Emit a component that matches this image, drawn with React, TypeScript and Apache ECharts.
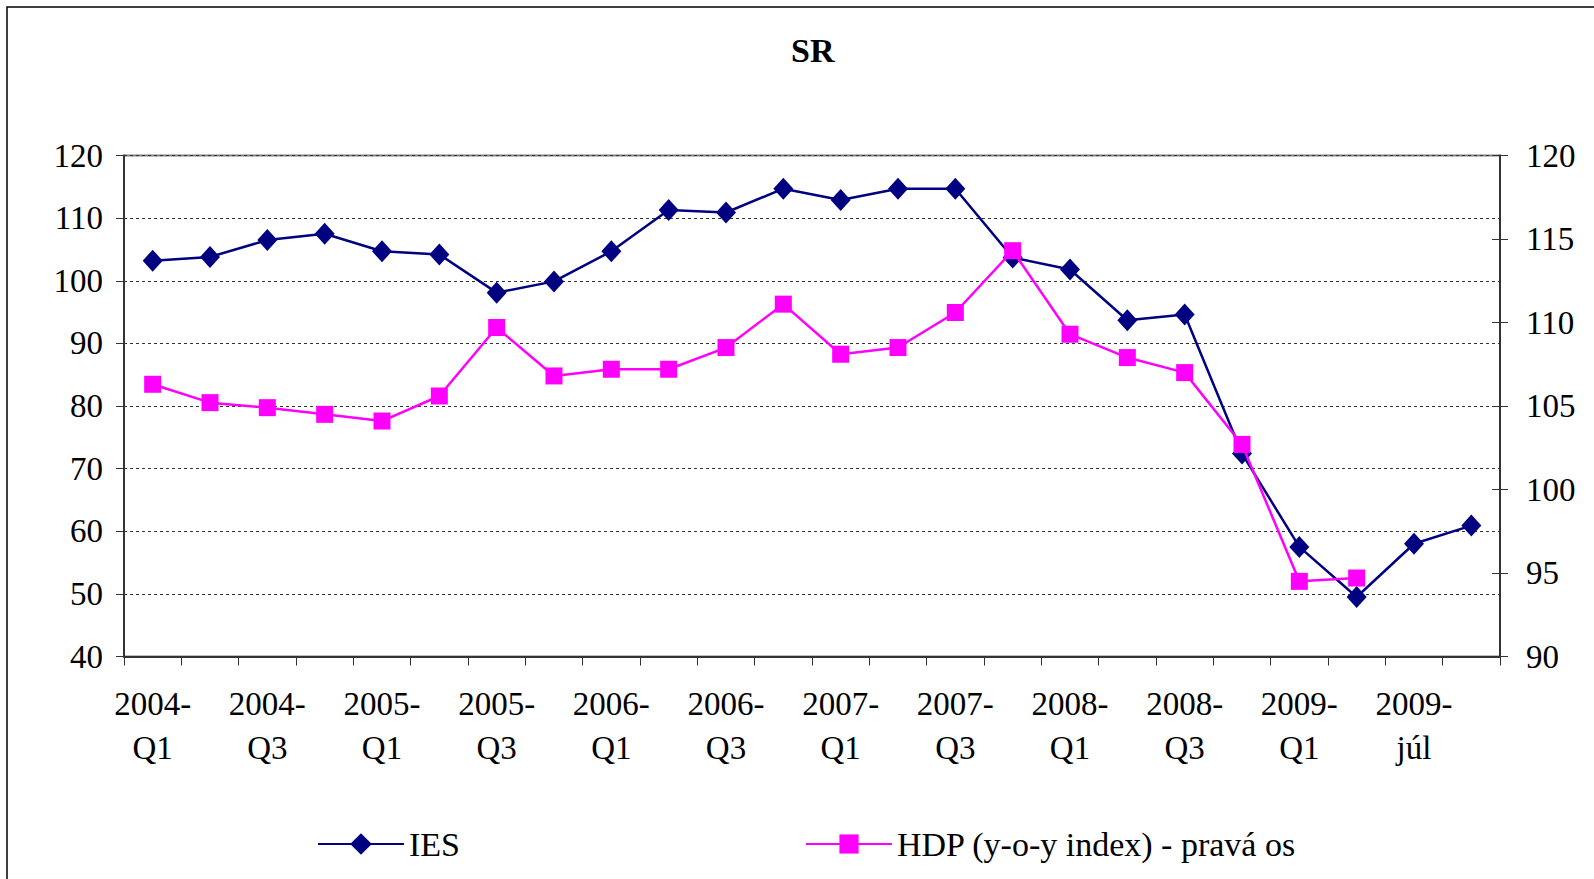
import React, { useEffect, useRef } from "react";
import * as echarts from "echarts";

const categories = [
  "2004-Q1", "2004-Q2", "2004-Q3", "2004-Q4",
  "2005-Q1", "2005-Q2", "2005-Q3", "2005-Q4",
  "2006-Q1", "2006-Q2", "2006-Q3", "2006-Q4",
  "2007-Q1", "2007-Q2", "2007-Q3", "2007-Q4",
  "2008-Q1", "2008-Q2", "2008-Q3", "2008-Q4",
  "2009-Q1", "2009-Q2", "2009-júl", "2009-aug",
];

const iesValues = [
  103.2, 103.8, 106.5, 107.5, 104.7, 104.2, 98.1, 99.9,
  104.7, 111.3, 110.9, 114.7, 112.9, 114.7, 114.7, 103.7,
  101.8, 93.7, 94.6, 72.4, 57.5, 49.5, 58.0, 60.9,
];

const hdpValues: (number | null)[] = [
  106.3, 105.2, 104.9, 104.5, 104.1, 105.6, 109.7, 106.8,
  107.2, 107.2, 108.5, 111.1, 108.1, 108.5, 110.6, 114.3,
  109.3, 107.9, 107.0, 102.7, 94.5, 94.7, null, null,
];

const leftTicks = { min: 40, max: 120, interval: 10 };
const rightTicks = { min: 90, max: 120, interval: 5 };

const IES_NAME = "IES";
const HDP_NAME = "HDP (y-o-y index) - pravá os";
const FONT = "'Liberation Serif', 'Times New Roman', serif";

export default function App() {
  const ref = useRef<HTMLDivElement>(null);
  useEffect(() => {
    if (!ref.current) return;
    const chart = echarts.init(ref.current, null, { renderer: "svg" });
    chart.setOption({
      animation: false,
      backgroundColor: "#ffffff",
      textStyle: { fontFamily: FONT, color: "#000" },
      title: {
        text: "SR",
        left: 786,
        top: 28,
        textStyle: { fontFamily: FONT, fontSize: 34, fontWeight: "bold", color: "#000" },
      },
      graphic: [
        {
          type: "rect",
          shape: { x: 7, y: 7, width: 1600, height: 900 },
          style: { fill: "none", stroke: "#000", lineWidth: 1.5 },
          silent: true,
          z: -1,
        },
      ],
      legend: [
        {
          left: 312,
          top: 822,
          data: [IES_NAME],
          itemWidth: 86,
          itemHeight: 27,
          textStyle: { fontFamily: FONT, fontSize: 34, color: "#000" },
        },
        {
          left: 800,
          top: 822,
          data: [HDP_NAME],
          itemWidth: 86,
          itemHeight: 24,
          textStyle: { fontFamily: FONT, fontSize: 34, color: "#000" },
        },
      ],
      grid: {
        left: 124,
        right: 94,
        top: 155.5,
        bottom: 222.5,
        show: true,
        borderColor: "#808080",
        borderWidth: 2,
        backgroundColor: "transparent",
      },
      xAxis: {
        type: "category",
        data: categories,
        boundaryGap: true,
        axisLine: { show: true, lineStyle: { color: "#333", width: 2 } },
        axisTick: { show: true, interval: 0, length: 9, lineStyle: { color: "#333", width: 1 } },
        axisLabel: {
          interval: 1,
          margin: 25,
          fontFamily: FONT,
          fontSize: 33,
          lineHeight: 44,
          color: "#000",
          formatter: (v: string) => v.replace("-", "-\n"),
        },
        splitLine: { show: false },
      },
      yAxis: [
        {
          type: "value",
          min: leftTicks.min,
          max: leftTicks.max,
          interval: leftTicks.interval,
          axisLine: { show: true, lineStyle: { color: "#333", width: 2 } },
          axisTick: { show: true, length: 8, lineStyle: { color: "#333" } },
          axisLabel: { margin: 21, fontFamily: FONT, fontSize: 33, color: "#000" },
          splitLine: { show: true, lineStyle: { color: "#333", type: [3, 3], width: 1 } },
        },
        {
          type: "value",
          position: "right",
          min: rightTicks.min,
          max: rightTicks.max,
          interval: rightTicks.interval,
          axisLine: { show: true, lineStyle: { color: "#333", width: 2 } },
          axisTick: { show: true, length: 8, lineStyle: { color: "#333" } },
          axisLabel: { margin: 26, fontFamily: FONT, fontSize: 33, color: "#000" },
          splitLine: { show: false },
        },
        {
          type: "value",
          position: "right",
          min: rightTicks.min,
          max: rightTicks.max,
          interval: rightTicks.interval,
          axisLine: { show: false },
          axisTick: { show: true, inside: true, length: 8, lineStyle: { color: "#333" } },
          axisLabel: { show: false },
          splitLine: { show: false },
        },
      ],
      series: [
        {
          name: IES_NAME,
          type: "line",
          yAxisIndex: 0,
          data: iesValues,
          symbol: "diamond",
          symbolSize: [20, 22],
          lineStyle: { color: "#000080", width: 2.5 },
          itemStyle: { color: "#000080" },
          z: 2,
        },
        {
          name: HDP_NAME,
          type: "line",
          yAxisIndex: 1,
          data: hdpValues,
          symbol: "rect",
          symbolSize: 17,
          lineStyle: { color: "#FF00FF", width: 2.5 },
          itemStyle: { color: "#FF00FF" },
          z: 3,
        },
      ],
    });
    return () => chart.dispose();
  }, []);
  return (
    <div
      ref={ref}
      style={{ position: "fixed", left: 0, top: 0, width: 1594, height: 879 }}
    />
  );
}
